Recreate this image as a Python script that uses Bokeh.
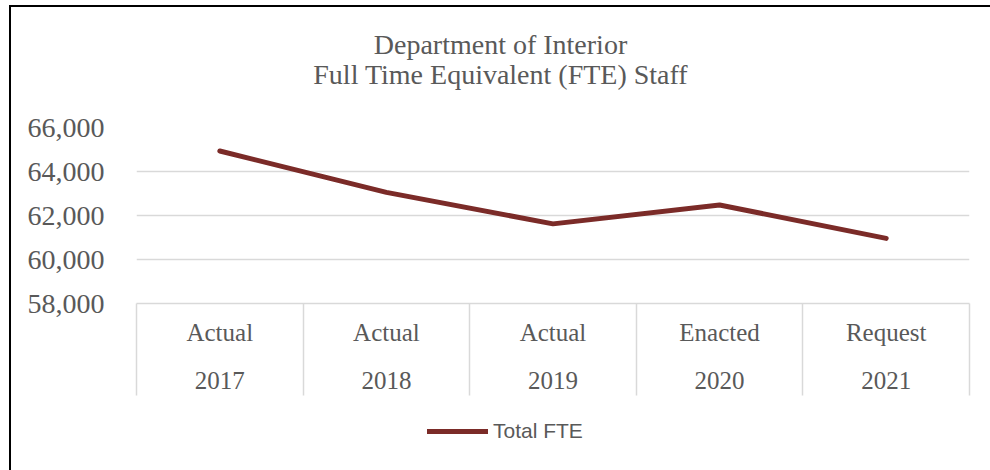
from bokeh.plotting import figure
from bokeh.models import (Range1d, FixedTicker, NumeralTickFormatter, Legend, LegendItem, Div)
from bokeh.layouts import column
from bokeh.embed import file_html
from bokeh.resources import INLINE

# ---- data ----
statuses = ["Actual", "Actual", "Actual", "Enacted", "Request"]
years = ["2017", "2018", "2019", "2020", "2021"]
fte = [64930, 63050, 61620, 62480, 60960]
y_ticks = [58000, 60000, 62000, 64000, 66000]
title_lines = ["Department of Interior", "Full Time Equivalent (FTE) Staff"]
series_name = "Total FTE"

TEXT = "#595959"
GRID = "#d9d9d9"
LINE = "#7b2b28"
SERIF = "Liberation Serif"
LINE_STYLE = dict(line_color=LINE, line_width=5, line_cap="round", line_join="round")

n = len(years)
centers = [i + 0.5 for i in range(n)]        # category slot centres
edges = [float(i) for i in range(n + 1)]     # category slot boundaries

# ---- title block ----
title = Div(width=979, height=95, margin=0,
            text=("<div style=\"display:block;width:966px;font-family:'Liberation Serif';font-size:28px;"
                  "color:%s;line-height:30px;text-align:center;padding:23px 0 0 13px;margin:0;\">"
                  "%s<br>%s</div>") % (TEXT, title_lines[0], title_lines[1]))

# ---- main chart ----
p = figure(width=979, height=303,
           x_range=Range1d(0, n), y_range=Range1d(y_ticks[0], y_ticks[-1]),
           output_backend="svg", toolbar_location=None,
           min_border_left=125, min_border_right=21, min_border_top=25, min_border_bottom=102)
p.outline_line_color = None
p.xgrid.visible = False

# y axis
p.yaxis.ticker = FixedTicker(ticks=y_ticks)
p.yaxis.formatter = NumeralTickFormatter(format="0,0")
p.yaxis.axis_line_color = None
p.yaxis.major_tick_line_color = None
p.yaxis.minor_tick_line_color = None
p.yaxis.major_tick_out = 0
p.yaxis.major_tick_in = 0
p.yaxis.major_label_standoff = 32
p.yaxis.major_label_text_font = SERIF
p.yaxis.major_label_text_font_size = "28px"
p.yaxis.major_label_text_color = TEXT
p.ygrid.ticker = FixedTicker(ticks=y_ticks)
p.ygrid.grid_line_color = GRID
p.ygrid.grid_line_width = 1.5

# category axis with table separators
xa = p.xaxis[0]
xa.ticker = FixedTicker(ticks=centers, minor_ticks=edges)
xa.major_label_overrides = {c: f"{s}\n{y}" for c, s, y in zip(centers, statuses, years)}
xa.axis_line_color = GRID
xa.axis_line_width = 1.5
xa.major_tick_line_color = None
xa.major_tick_out = 0
xa.major_tick_in = 0
xa.minor_tick_line_color = GRID
xa.minor_tick_line_width = 1.5
xa.minor_tick_out = 92
xa.minor_tick_in = 0
xa.major_label_standoff = -77
xa.major_label_text_font = SERIF
xa.major_label_text_font_size = "25px"
xa.major_label_text_color = TEXT
xa.major_label_text_line_height = 1.78

r = p.line(x=centers, y=fte, **LINE_STYLE)

# ---- legend strip below the chart (same series, its line lies outside this strip's view) ----
p2 = figure(width=979, height=65, x_range=Range1d(0, n), y_range=Range1d(0, 1),
            output_backend="svg", toolbar_location=None,
            x_axis_location=None, y_axis_location=None,
            min_border_left=0, min_border_right=0, min_border_top=0, min_border_bottom=0)
p2.outline_line_color = None
p2.grid.visible = False
r2 = p2.line(x=centers, y=fte, **LINE_STYLE)
legend = Legend(items=[LegendItem(label=series_name, renderers=[r2])],
                location=(291, 27), orientation="horizontal",
                border_line_color=None, background_fill_alpha=0,
                label_text_font="Liberation Sans", label_text_font_size="21px",
                label_text_color=TEXT, glyph_width=61, glyph_height=20,
                label_standoff=5, padding=0, margin=0, spacing=0)
p2.add_layout(legend, "center")

inner = column(title, p, p2, spacing=0,
               styles={"border-left": "2px solid #000", "border-top": "2px solid #000"})
layout = column(inner, styles={"padding-left": "9px", "padding-top": "5px"})

open("out.html", "w").write(file_html(layout, INLINE))
